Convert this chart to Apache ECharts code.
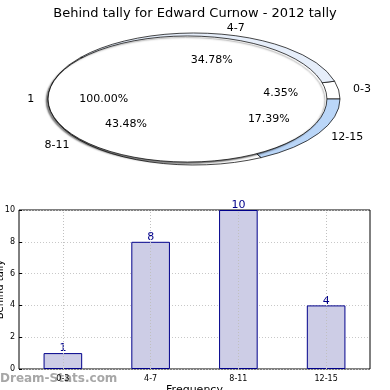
<!DOCTYPE html>
<html><head><meta charset="utf-8">
<script src="https://cdn.jsdelivr.net/npm/echarts@6/dist/echarts.min.js"></script>
<style>html,body{margin:0;padding:0;background:#fff}#c{width:390px;height:390px}</style>
</head><body><div id="c"></div>
<script>
const titleText = 'Behind tally for Edward Curnow - 2012 tally';
const ringCats = ['0-3', '4-7', '8-11', '12-15'];
const ringValues = [1, 8, 10, 4];
const innerCats = ['1'];
const innerValues = [1];
const barCats = ['0-3', '4-7', '8-11', '12-15'];
const barValues = [1, 8, 10, 4];
const yTicks = [0, 2, 4, 6, 8, 10];

const FONT = 'DejaVu Sans';
const CX = 194, CY = 99, R = 146, K = 66 / 146;

// opts: {colors, r0, r, explode(px), drawSector, drawLabels, shadow}
function makeRender(values, cats, opts) {
  const total = values.reduce((a, b) => a + b, 0);
  return function (params, api) {
    const i = params.dataIndex;
    let start = 0;
    for (let j = 0; j < i; j++) start += values[j];
    const v = values[i];
    const a0 = start / total * Math.PI * 2;
    const a1 = (start + v) / total * Math.PI * 2;
    const mid = (a0 + a1) / 2;
    const c = Math.cos(mid), s = Math.sin(mid);
    const ox = CX + opts.explode * c, oy = CY - opts.explode * K * s;
    const rr = opts.r * R;
    const children = [];
    if (opts.drawSector) {
      const style = { fill: opts.colors[i % opts.colors.length], stroke: '#000', lineWidth: 1, strokeNoScale: true };
      if (opts.shadow) {
        style.shadowColor = 'rgba(0,0,0,0.5)'; style.shadowBlur = 1.5;
        style.shadowOffsetX = -2; style.shadowOffsetY = 1.5;
      }
      children.push({
        type: 'sector', x: ox, y: oy, scaleX: 1, scaleY: K,
        shape: { cx: 0, cy: 0, r0: opts.r0 * R, r: rr, startAngle: -a1, endAngle: -a0, clockwise: true },
        style: style
      });
    }
    if (opts.drawLabels) {
      children.push({
        type: 'text', x: ox + 1.1 * rr * c, y: oy - 1.1 * rr * K * s,
        style: { text: cats[i], fontFamily: FONT, fontSize: 11, fill: '#000',
                 align: c > 1e-6 ? 'left' : (c < -1e-6 ? 'right' : 'center'), verticalAlign: 'middle' }
      });
      children.push({
        type: 'text', x: ox + 0.6 * rr * c, y: oy - 0.6 * rr * K * s,
        style: { text: (v / total * 100).toFixed(2) + '%', fontFamily: FONT, fontSize: 11, fill: '#000',
                 align: 'center', verticalAlign: 'middle' }
      });
    }
    return { type: 'group', children: children };
  };
}

const ringColors = ['#ffffff', '#e6eefa', '#ffffff', '#bad6f8'];
const ringData = ringValues.map((v, i) => ({ value: v, name: ringCats[i] }));

const chart = echarts.init(document.getElementById('c'), null, { renderer: 'canvas' });
chart.setOption({
  animation: false,
  backgroundColor: '#fff',
  title: { text: titleText, left: 'center', top: 2,
           textStyle: { fontFamily: FONT, fontSize: 13, fontWeight: 'normal', color: '#000' } },
  graphic: [{
    type: 'text', left: 0, top: 373,
    style: { text: 'Dream-Stats.com', fontFamily: FONT, fontSize: 12, fontWeight: 'bold', fill: 'rgba(130,130,130,0.7)' }
  }],
  grid: { left: 19, top: 210, width: 351, height: 159, outerBoundsMode: 'none', containLabel: false,
          show: true, borderColor: '#000', borderWidth: 1, backgroundColor: 'transparent' },
  xAxis: {
    type: 'category', data: barCats,
    name: 'Frequency', nameLocation: 'middle', nameGap: 16, nameMoveOverlap: false,
    nameTextStyle: { fontFamily: FONT, fontSize: 11, color: '#000' },
    axisLine: { show: false }, axisTick: { show: false },
    axisLabel: { fontFamily: FONT, fontSize: 8, color: '#000', margin: 6 },
    splitLine: { show: false }
  },
  yAxis: {
    type: 'value', min: yTicks[0], max: yTicks[yTicks.length - 1], interval: 2,
    name: 'Behind tally', nameLocation: 'middle', nameGap: 14, nameMoveOverlap: false,
    nameTextStyle: { fontFamily: FONT, fontSize: 10, color: '#000' },
    axisLine: { show: false },
    axisTick: { show: true, inside: true, length: 3, lineStyle: { color: '#000' } },
    axisLabel: { fontFamily: FONT, fontSize: 8, color: '#000', margin: 4 },
    splitLine: { show: true, lineStyle: { color: '#c8c8c8', type: [1, 2], width: 1 } }
  },
  series: [
    {
      type: 'custom', coordinateSystem: 'none', silent: true, z: 1,
      data: ringData,
      renderItem: makeRender(ringValues, ringCats, { colors: ringColors, r0: 0.8, r: 1.0, explode: 0, drawSector: true, drawLabels: false, shadow: false })
    },
    {
      type: 'custom', coordinateSystem: 'none', silent: true, z: 2,
      data: innerValues.map((v, i) => ({ value: v, name: innerCats[i] })),
      renderItem: makeRender(innerValues, innerCats, { colors: ['#ffffff'], r0: 0, r: 0.955, explode: 6.5, drawSector: true, drawLabels: true, shadow: true })
    },
    {
      type: 'custom', coordinateSystem: 'none', silent: true, z: 3,
      data: ringData,
      renderItem: makeRender(ringValues, ringCats, { colors: ringColors, r0: 0.8, r: 1.0, explode: 0, drawSector: false, drawLabels: true, shadow: false })
    },
    {
      type: 'bar', data: barValues, barWidth: '44%',
      itemStyle: { color: '#cdcde6', borderColor: '#00008b', borderWidth: 1 },
      label: { show: true, position: 'top', distance: -1, fontFamily: FONT, fontSize: 11, color: '#00008b' },
      markLine: {
        silent: true, symbol: 'none', label: { show: false },
        lineStyle: { color: '#c0c0c0', type: [1, 2], width: 1 },
        data: barCats.map(c => ({ xAxis: c }))
      }
    }
  ]
});
</script>
</body></html>
